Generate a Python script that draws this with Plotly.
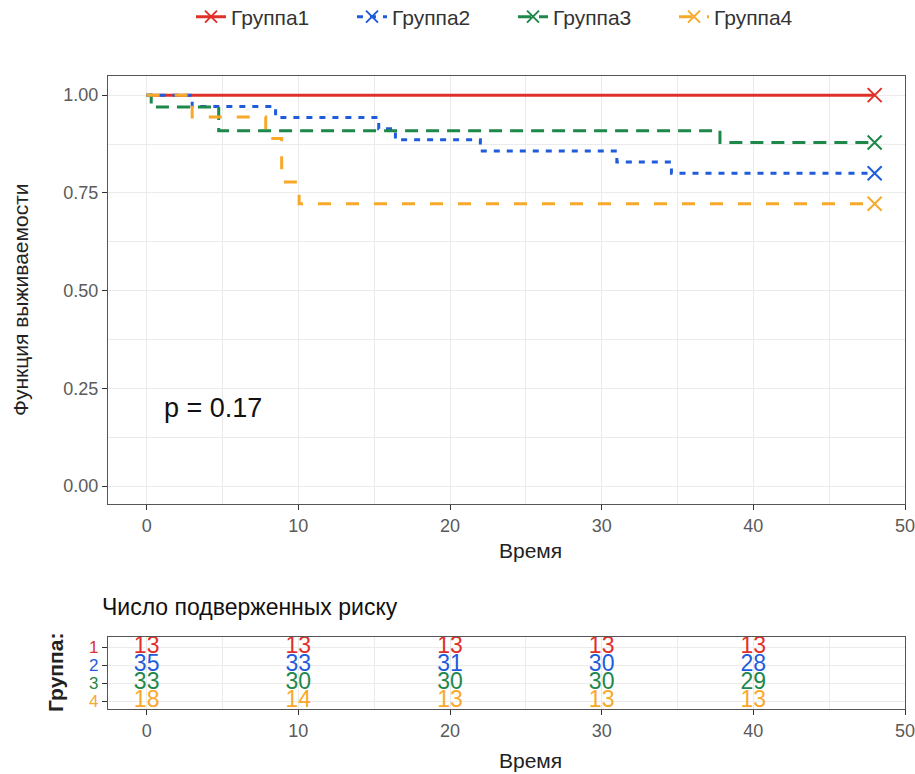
import plotly.graph_objects as go

# ---------------- data ----------------
groups = ["Группа1", "Группа2", "Группа3", "Группа4"]
colors = ["#E0302A", "#1F5BDB", "#1E874A", "#F8A92A"]
dashes = ["solid", "6px,7px", "13px,8px", "13px,15px"]

g1_time = [0, 48]
g1_surv = [1.0, 1.0]
g2_time = [0, 3.0, 8.5, 15.3, 16.4, 22.0, 31.0, 34.6, 48]
g2_surv = [1.0, 0.971, 0.943, 0.914, 0.886, 0.857, 0.829, 0.800, 0.800]
g3_time = [0, 0.3, 4.75, 37.8, 48]
g3_surv = [1.0, 0.970, 0.909, 0.879, 0.879]
g4_time = [0, 3.0, 7.85, 8.9, 10.05, 48]
g4_surv = [1.0, 0.944, 0.889, 0.778, 0.722, 0.722]

times_all = [g1_time, g2_time, g3_time, g4_time]
survs_all = [g1_surv, g2_surv, g3_surv, g4_surv]

risk_times = [0, 10, 20, 30, 40]
risk_g1 = [13, 13, 13, 13, 13]
risk_g2 = [35, 33, 31, 30, 28]
risk_g3 = [33, 30, 30, 30, 29]
risk_g4 = [18, 14, 13, 13, 13]
risk_all = [risk_g1, risk_g2, risk_g3, risk_g4]

x_ticks = [0, 10, 20, 30, 40, 50]
y_ticks = [0.0, 0.25, 0.5, 0.75, 1.0]
y_ticklabels = ["0.00", "0.25", "0.50", "0.75", "1.00"]
p_text = "p = 0.17"

FONT = "Liberation Sans, Arial, sans-serif"
W, H = 915, 774

fig = go.Figure()

for i, g in enumerate(groups):
    # step curve
    fig.add_trace(go.Scatter(
        x=times_all[i], y=survs_all[i], mode="lines", line_shape="hv",
        line=dict(color=colors[i], width=3, dash=dashes[i]),
        showlegend=False, hoverinfo="skip", xaxis="x", yaxis="y"))
    # censor mark at the end
    fig.add_trace(go.Scatter(
        x=[times_all[i][-1]], y=[survs_all[i][-1]], mode="markers",
        marker=dict(symbol="x-thin-open", size=14, color=colors[i],
                    line=dict(color=colors[i], width=2)),
        showlegend=False, hoverinfo="skip", xaxis="x", yaxis="y"))
    # legend entry
    fig.add_trace(go.Scatter(
        x=[None], y=[None], mode="lines+markers", name=g,
        line=dict(color=colors[i], width=3, dash=dashes[i]),
        marker=dict(symbol="x-thin-open", size=12, color=colors[i],
                    line=dict(color=colors[i], width=2)),
        xaxis="x", yaxis="y"))
    # risk table numbers
    fig.add_trace(go.Scatter(
        x=risk_times, y=[i + 1] * len(risk_times), mode="text",
        text=[str(v) for v in risk_all[i]],
        textfont=dict(color=colors[i], size=23, family=FONT),
        showlegend=False, hoverinfo="skip", xaxis="x2", yaxis="y2"))

xdom = [108 / W, 905 / W]
grid = "#EBEBEB"
border = "#555555"

common_x = dict(
    range=[-2.55, 50.0], domain=xdom, tickvals=x_ticks,
    ticks="outside", ticklen=5, tickwidth=1.3, tickcolor="#333333",
    showline=True, linecolor=border, linewidth=1.3, mirror=True,
    showgrid=True, gridcolor=grid, gridwidth=1.2,
    minor=dict(tick0=5, dtick=10, showgrid=True, gridcolor=grid, gridwidth=0.7, ticks=""),
    tickfont=dict(size=18, color="#5A5A5A", family=FONT),
    ticklabeloverflow="allow",
    zeroline=False, fixedrange=True, automargin=False,
)

fig.update_layout(
    width=W, height=H,
    margin=dict(l=0, r=0, t=0, b=0, pad=0, autoexpand=False),
    paper_bgcolor="white", plot_bgcolor="white",
    font=dict(family=FONT, color="#222222"),
    xaxis=dict(**common_x, anchor="y"),
    yaxis=dict(
        range=[-0.046, 1.049], domain=[1 - 504 / H, 1 - 76 / H],
        tickvals=y_ticks, ticktext=y_ticklabels,
        ticks="outside", ticklen=5, tickwidth=1.3, tickcolor="#333333",
        showline=True, linecolor=border, linewidth=1.3, mirror=True,
        showgrid=True, gridcolor=grid, gridwidth=1.2,
        minor=dict(tick0=0.125, dtick=0.25, showgrid=True, gridcolor=grid, gridwidth=0.7, ticks=""),
        tickfont=dict(size=18, color="#5A5A5A", family=FONT),
        zeroline=False, fixedrange=True, anchor="x", automargin=False),
    xaxis2=dict(**common_x, anchor="y2"),
    yaxis2=dict(
        range=[4.444, 0.444], domain=[1 - 709 / H, 1 - 637 / H],
        tickvals=[1, 2, 3, 4],
        ticktext=[f"<span style='color:{c}'>{k}</span>" for k, c in zip([1, 2, 3, 4], colors)],
        ticks="outside", ticklen=5, tickwidth=1.3, tickcolor="#333333",
        showline=True, linecolor=border, linewidth=1.3, mirror=True,
        showgrid=True, gridcolor=grid, gridwidth=1.2,
        tickfont=dict(size=17, family=FONT),
        zeroline=False, fixedrange=True, anchor="x2", automargin=False),
    legend=dict(
        orientation="h", x=513 / W, xanchor="center", y=1 - 17 / H, yanchor="middle",
        font=dict(size=21, color="#333333", family=FONT),
        bgcolor="rgba(0,0,0,0)", itemwidth=30,
        entrywidth=116, entrywidthmode="pixels",
    ),
    showlegend=True,
)

ann = [
    dict(text="Функция выживаемости", x=20 / W, y=1 - 300 / H, xref="paper", yref="paper",
         textangle=-90, showarrow=False, font=dict(size=21, color="#222222"),
         xanchor="center", yanchor="middle"),
    dict(text="Время", x=530 / W, y=1 - 550 / H, xref="paper", yref="paper",
         showarrow=False, font=dict(size=21, color="#222222"), xanchor="center", yanchor="middle"),
    dict(text=p_text, x=1, y=0.2, xref="x", yref="y", showarrow=False,
         font=dict(size=27, color="#111111"), xanchor="left", yanchor="middle"),
    dict(text="Число подверженных риску", x=100 / W, y=1 - 607 / H, xref="paper", yref="paper",
         showarrow=False, font=dict(size=23, color="#111111"), xanchor="left", yanchor="middle"),
    dict(text="<b>Группа:</b>", x=55 / W, y=1 - 673 / H, xref="paper", yref="paper",
         textangle=-90, showarrow=False, font=dict(size=21, color="#222222"),
         xanchor="center", yanchor="middle"),
    dict(text="Время", x=530 / W, y=1 - 760 / H, xref="paper", yref="paper",
         showarrow=False, font=dict(size=21, color="#222222"), xanchor="center", yanchor="middle"),
]
fig.update_layout(annotations=ann)

fig.write_html("out.html")
